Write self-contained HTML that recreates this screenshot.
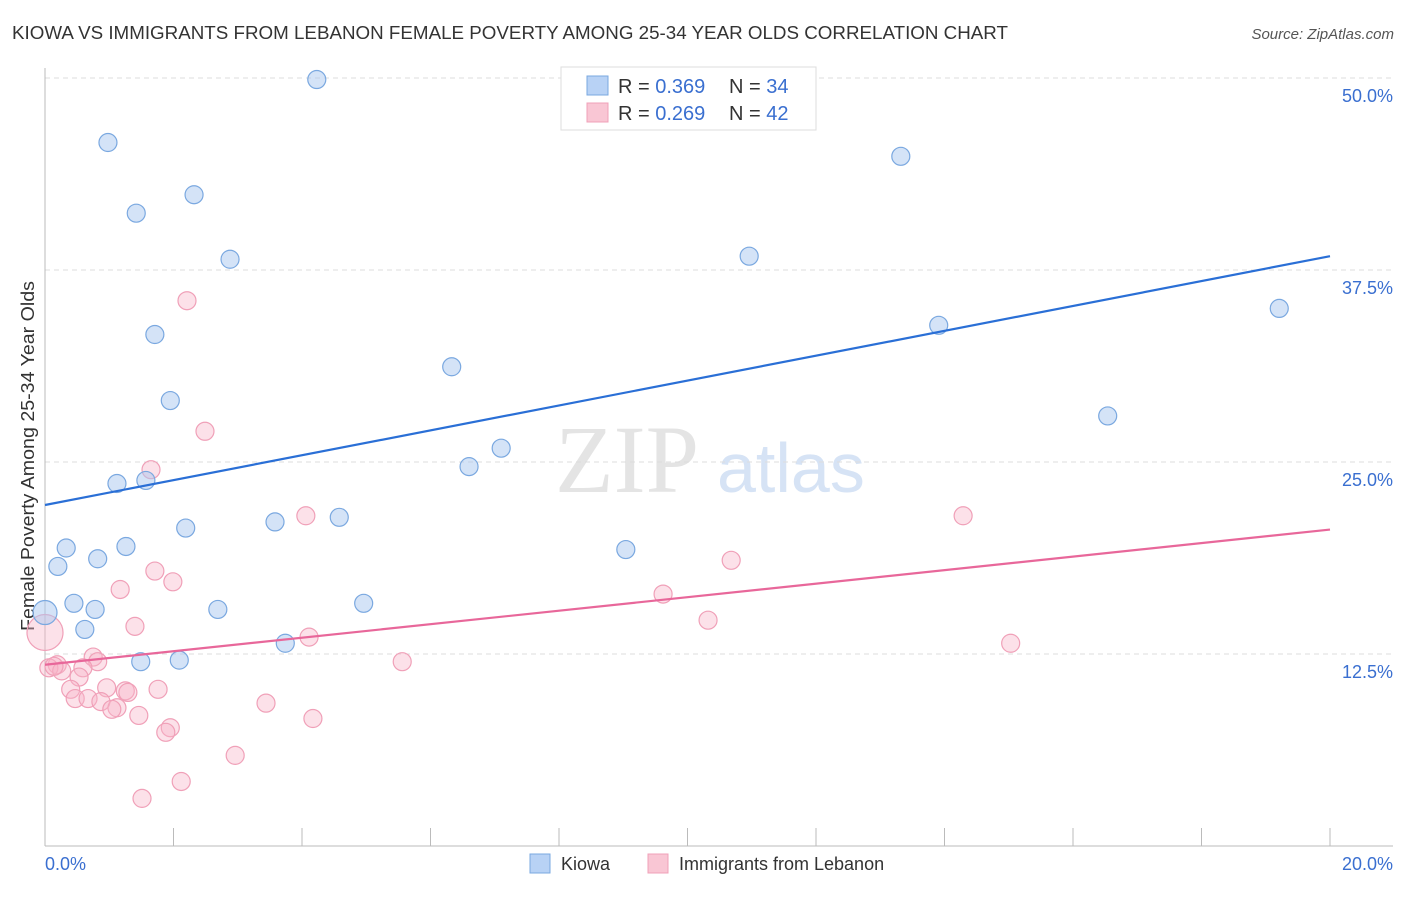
<!DOCTYPE html>
<html><head><meta charset="utf-8"><style>
body{margin:0;background:#fff;font-family:"Liberation Sans",sans-serif;}
</style></head><body>
<svg width="1406" height="892" xmlns="http://www.w3.org/2000/svg" id="svg">
<text x="12" y="39" font-size="18" fill="#333" textLength="996" lengthAdjust="spacingAndGlyphs">KIOWA VS IMMIGRANTS FROM LEBANON FEMALE POVERTY AMONG 25-34 YEAR OLDS CORRELATION CHART</text>
<text x="1394" y="39" font-size="15" fill="#555" font-style="italic" text-anchor="end">Source: ZipAtlas.com</text>
<text x="555" y="492" font-size="96" fill="#e4e4e4" font-family="Liberation Serif">ZIP</text>
<text x="717" y="492" font-size="70" fill="#d6e3f5">atlas</text>
<g id="grid"></g>
<line x1="45" y1="68" x2="45" y2="846" stroke="#bbb"/>
<line x1="45" y1="846" x2="1393" y2="846" stroke="#bbb"/>
<text transform="translate(34,456) rotate(-90)" font-size="18" fill="#333" text-anchor="middle" textLength="350" lengthAdjust="spacingAndGlyphs">Female Poverty Among 25-34 Year Olds</text>
<text x="45" y="870" font-size="18" fill="#3a6fd0">0.0%</text>
<text x="1393" y="870" font-size="18" fill="#3a6fd0" text-anchor="end">20.0%</text>
<g id="marks"></g>
<g>
<rect x="561" y="67" width="255" height="63" fill="#fff" stroke="#ddd"/>
<rect x="587" y="76" width="21" height="19" fill="#b8d2f5" stroke="#7aa8e0"/>
<rect x="587" y="103" width="21" height="19" fill="#f9c6d4" stroke="#f0a0b8"/>
<text x="618" y="93" font-size="20" fill="#333">R = <tspan fill="#3a6fd0">0.369</tspan></text>
<text x="729" y="93" font-size="20" fill="#333">N = <tspan fill="#3a6fd0">34</tspan></text>
<text x="618" y="120" font-size="20" fill="#333">R = <tspan fill="#3a6fd0">0.269</tspan></text>
<text x="729" y="120" font-size="20" fill="#333">N = <tspan fill="#3a6fd0">42</tspan></text>
</g>
<g>
<rect x="530" y="854" width="20" height="19" fill="#b8d2f5" stroke="#7aa8e0"/>
<text x="561" y="870" font-size="18" fill="#333">Kiowa</text>
<rect x="648" y="854" width="20" height="19" fill="#f9c6d4" stroke="#f0a0b8"/>
<text x="679" y="870" font-size="18" fill="#333">Immigrants from Lebanon</text>
</g>
</svg>
<script>
const yTicks=[12.5,25,37.5,50];
const yTickLabels=["12.5%","25.0%","37.5%","50.0%"];
const xTicks=[0,2,4,6,8,10,12,14,16,18,20];
const kiowaX=[4.23,0.98,1.42,2.32,2.88,13.32,10.96,1.71,13.91,19.21,6.33,1.95,16.54,6.60,7.10,1.12,1.57,2.19,3.58,4.58,0.33,1.26,9.04,0.82,0.20,0.45,0.78,2.69,4.96,0,0.62,3.74,1.49,2.09];
const kiowaY=[49.9,45.8,41.2,42.4,38.2,44.9,38.4,33.3,33.9,35.0,31.2,29.0,28.0,24.7,25.9,23.6,23.8,20.7,21.1,21.4,19.4,19.5,19.3,18.7,18.2,15.8,15.4,15.4,15.8,15.2,14.1,13.2,12.0,12.1];
const lebX=[2.21,2.49,1.65,4.06,14.29,10.68,1.71,1.99,1.17,9.62,10.32,1.40,0,4.11,15.03,5.56,0.75,0.82,0.19,0.59,0.06,0.26,0.53,0.40,0.96,1.25,1.29,1.76,0.47,0.67,0.87,1.12,1.04,1.46,3.44,4.17,1.95,1.88,2.96,2.12,1.51,0.14];
const lebY=[35.5,27.0,24.5,21.5,21.5,18.6,17.9,17.2,16.7,16.4,14.7,14.3,13.9,13.6,13.2,12.0,12.3,12.0,11.8,11.6,11.6,11.4,11.0,10.2,10.3,10.1,10.0,10.2,9.6,9.6,9.4,9.0,8.9,8.5,9.3,8.3,7.7,7.4,5.9,4.2,3.1,11.7];
const kiowaTrend=[22.2,38.4];
const lebTrend=[11.8,20.6];
const NS="http://www.w3.org/2000/svg";
const sx=v=>45+v/20*1285, sy=v=>846-v*15.36;
const grid=document.getElementById('grid'), marks=document.getElementById('marks');
function mk(tag,attrs,parent){const e=document.createElementNS(NS,tag);for(const k in attrs)e.setAttribute(k,attrs[k]);parent.appendChild(e);return e;}
yTicks.forEach((t,i)=>{
 const l=mk('line',{x1:45,x2:1393,y1:sy(t),y2:sy(t),stroke:'#ddd','stroke-dasharray':'5,4'},grid);
 
 
 const tx=mk('text',{x:1393,y:sy(t)+24,'font-size':18,fill:'#3a6fd0','text-anchor':'end'},grid);
 tx.textContent=yTickLabels[i];
 
 
});
xTicks.forEach(t=>{
 const l=mk('line',{x1:sx(t),x2:sx(t),y1:828,y2:846,stroke:'#bbb'},grid);
 
 
});
function pts(X,Y,fill,stroke,name){
 X.forEach((x,i)=>{
  const r=(x===0)?(name==='kiowa-point'?12:18):9;
  const c=mk('circle',{cx:sx(x),cy:sy(Y[i]),r:r,fill:fill,stroke:stroke,'stroke-width':1.2},marks);
  
  
 });
}
pts(lebX,lebY,'rgba(248,180,200,0.4)','#f0a0b8','lebanon-point');
pts(kiowaX,kiowaY,'rgba(170,200,240,0.5)','#7aa8e0','kiowa-point');
const t1=mk('line',{x1:sx(0),y1:sy(kiowaTrend[0]),x2:sx(20),y2:sy(kiowaTrend[1]),stroke:'#2a6fd6','stroke-width':2.2},marks);


const t2=mk('line',{x1:sx(0),y1:sy(lebTrend[0]),x2:sx(20),y2:sy(lebTrend[1]),stroke:'#e8679a','stroke-width':2.2},marks);


</script>
</body></html>
